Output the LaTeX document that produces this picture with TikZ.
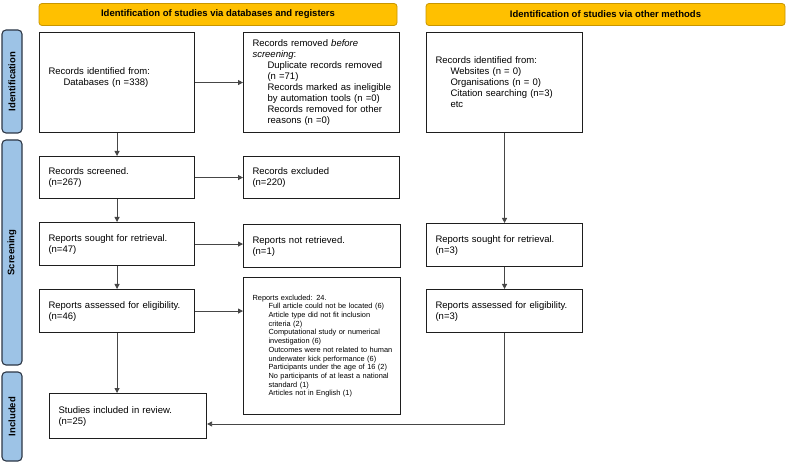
\documentclass[tikz,border=0pt]{standalone}
\usepackage{fontspec}
\setmainfont{Liberation Sans}
\usetikzlibrary{arrows.meta,calc}
\definecolor{hdrfill}{RGB}{255,192,0}
\definecolor{hdrdraw}{RGB}{200,150,0}
\definecolor{sidefill}{RGB}{157,195,230}
\definecolor{sidedraw}{RGB}{45,55,70}
\definecolor{boxdraw}{RGB}{30,30,30}
\definecolor{linkcol}{RGB}{70,70,70}
\newcommand\il[1]{\mbox{\hspace*{15pt}#1}}
\newcommand\sil[1]{\mbox{\hspace*{16pt}#1}}
\begin{document}
\begin{tikzpicture}[x=1pt,y=-1pt,
  hdr/.style={draw=hdrdraw, line width=0.8pt, fill=hdrfill, rounded corners=3pt,
    minimum height=22pt, inner sep=0pt, font=\fontsize{9.5}{11}\selectfont\bfseries},
  side/.style={draw=sidedraw, line width=1.1pt, fill=sidefill, rounded corners=4pt,
    rotate=90, minimum height=20pt, inner sep=0pt, font=\fontsize{9.5}{11}\selectfont\bfseries},
  pbox/.style={draw=boxdraw, line width=1.1pt, fill=white, anchor=north west,
    inner xsep=9pt, inner ysep=0pt, align=left, font=\fontsize{9.5}{11}\selectfont},
  small/.style={font=\fontsize{7.4}{8.7}\selectfont},
  link/.style={draw=linkcol, line width=0.8pt},
  arr/.style={link, -{Triangle[length=5pt,width=5pt]}}
]
\useasboundingbox (0,0) rectangle (787,462);

% headers
\node[hdr, minimum width=358pt] (h1) at (218,14.5) {Identification of studies via databases and registers};
\node[hdr, minimum width=359pt] (h2) at (605.5,14.5) {Identification of studies via other methods};

% side bars
\node[side, minimum width=103pt] (sid) at (12,81.5) {Identification};
\node[side, minimum width=225pt] (ssc) at (12,252.5) {Screening};
\node[side, minimum width=89pt] (sin) at (12,416.5) {Included};

% boxes
\node[pbox, minimum width=155pt, minimum height=100pt, text width=137pt] (id) at (39,32)
  {Records identified from:\\\il{Databases (n =338)}\\\mbox{}};
\node[pbox, minimum width=156pt, minimum height=100pt, text width=138pt] (removed) at (243,32)
  {\mbox{Records removed \textit{before}}\\\textit{screening}:\\\il{Duplicate records removed}\\\il{(n =71)}\\\il{Records marked as ineligible}\\\il{by automation tools (n =0)}\\\il{Records removed for other}\\\il{reasons (n =0)}};
\node[pbox, minimum width=156pt, minimum height=100pt, text width=138pt] (oid) at (426,32)
  {Records identified from:\\\il{Websites (n = 0)}\\\il{Organisations (n = 0)}\\\il{Citation searching (n=3)}\\\il{etc}};

\node[pbox, minimum width=155pt, minimum height=42pt, text width=137pt] (screened) at (39,156)
  {Records screened.\\(n=267)};
\node[pbox, minimum width=156pt, minimum height=42pt, text width=138pt] (excluded) at (243,156)
  {Records excluded\\(n=220)};

\node[pbox, minimum width=155pt, minimum height=43pt, text width=137pt] (sought) at (39,222)
  {Reports sought for retrieval.\\(n=47)};
\node[pbox, minimum width=157pt, minimum height=43pt, text width=139pt] (notret) at (243,224)
  {Reports not retrieved.\\(n=1)};
\node[pbox, minimum width=156pt, minimum height=43pt, text width=138pt] (osought) at (426,223)
  {Reports sought for retrieval.\\(n=3)};

\node[pbox, minimum width=155pt, minimum height=43pt, text width=137pt] (assessed) at (39,289)
  {Reports assessed for eligibility.\\(n=46)};
\node[pbox, small, minimum width=157pt, minimum height=137pt, text width=139pt] (repexcl) at (243,277)
  {Reports excluded: 24.\\\sil{Full article could not be located (6)}\\\sil{Article type did not fit inclusion}\\\sil{criteria (2)}\\\sil{Computational study or numerical}\\\sil{investigation (6)}\\\sil{Outcomes were not related to human}\\\sil{underwater kick performance (6)}\\\sil{Participants under the age of 16 (2)}\\\sil{No participants of at least a national}\\\sil{standard (1)}\\\sil{Articles not in English (1)}};
\node[pbox, minimum width=156pt, minimum height=43pt, text width=138pt] (oassessed) at (426,289)
  {Reports assessed for eligibility.\\(n=3)};

\node[pbox, minimum width=157pt, minimum height=45pt, text width=139pt] (studies) at (49,393)
  {Studies included in review.\\(n=25)};

% connectors
\draw[arr] (id.east) -- (id.east -| removed.west);
\draw[arr] (id.south) -- (id.south |- screened.north);
\draw[arr] (screened.east) -- (screened.east -| excluded.west);
\draw[arr] (screened.south) -- (screened.south |- sought.north);
\draw[arr] (sought.east) -- (sought.east -| notret.west);
\draw[arr] (sought.south) -- (sought.south |- assessed.north);
\draw[arr] (assessed.east) -- (assessed.east -| repexcl.west);
\draw[arr] (assessed.south) -- (assessed.south |- studies.north);
\draw[arr] (oid.south) -- (oid.south |- osought.north);
\draw[arr] (osought.south) -- (osought.south |- oassessed.north);
\coordinate (corner) at (oassessed.south |- 0,424);
\draw[arr] (oassessed.south) -- (corner) -- (corner -| studies.east);
\end{tikzpicture}
\end{document}
